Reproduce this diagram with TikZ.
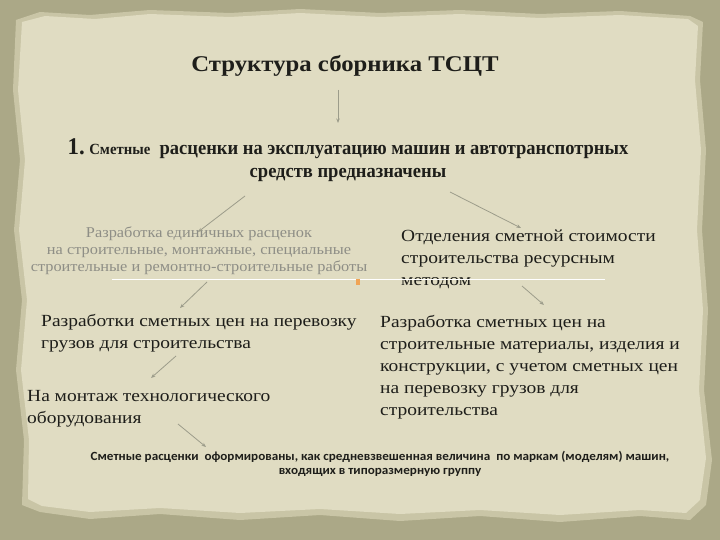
\documentclass[tikz,border=0pt]{standalone}
\usepackage{fontspec}
\setmainfont{Liberation Serif}
\newfontfamily\bodyf[FakeStretch=1.145]{Liberation Serif}
\newfontfamily\titlef[FakeStretch=1.1]{Liberation Serif}
\newfontfamily\condf[FakeStretch=0.95]{Liberation Serif}
\newfontfamily\greyf[FakeStretch=1.09]{Liberation Serif}
\newfontfamily\botf[FakeStretch=1.05]{Carlito}
\usetikzlibrary{arrows.meta}
\definecolor{outerc}{HTML}{ABA887}
\definecolor{edgec}{HTML}{C9C5A6}
\definecolor{paperc}{HTML}{E0DCC2}
\definecolor{arrowc}{HTML}{9C9C8A}
\definecolor{greyt}{HTML}{8E8E86}
\definecolor{orangec}{HTML}{F0A455}
\definecolor{textc}{HTML}{1E1E1A}
\tikzset{
  conn/.style={draw=arrowc, line width=0.8pt, -{Stealth[length=4.5pt,width=3.5pt]}},
  bodytext/.style={font=\bodyf\fontsize{17}{22}\selectfont, text=textc, align=left, inner sep=0pt},
  greytext/.style={font=\greyf\fontsize{15}{17}\selectfont, text=greyt, align=center, inner sep=0pt},
}
\begin{document}
\begin{tikzpicture}[x=1pt,y=-1pt]
\useasboundingbox (0,0) rectangle (720,540);
\fill[outerc] (0,0) rectangle (720,540);
% soft torn edge
\fill[edgec] (16,20) -- (40,12) -- (90,15) -- (150,10) -- (230,13) -- (300,9) -- (380,13) -- (460,10) -- (540,14) -- (620,11) -- (690,16) -- (703,22)
  -- (700,80) -- (706,150) -- (702,230) -- (708,310) -- (704,390) -- (712,460) -- (706,505) -- (690,520) -- (640,516) -- (560,522) -- (480,516) -- (400,521) -- (320,515) -- (240,520) -- (160,514) -- (90,519) -- (40,512) -- (22,505)
  -- (24,440) -- (16,370) -- (22,300) -- (14,230) -- (20,160) -- (13,90) -- cycle;
\fill[paperc] (22,22) -- (45,16) -- (95,19) -- (150,14) -- (230,17) -- (300,13) -- (380,17) -- (460,14) -- (540,18) -- (620,15) -- (688,19) -- (698,26)
  -- (695,80) -- (701,150) -- (697,230) -- (703,310) -- (699,390) -- (706,458) -- (700,500) -- (686,513) -- (640,510) -- (560,515) -- (480,510) -- (400,514) -- (320,509) -- (240,513) -- (160,508) -- (90,512) -- (42,506) -- (28,499)
  -- (29,440) -- (21,370) -- (27,300) -- (19,230) -- (25,160) -- (18,90) -- cycle;

% nodes
\node[font=\titlef\bfseries\fontsize{22.5}{26}\selectfont, text=textc, inner sep=0pt] (title) at (345,66) {Структура сборника ТСЦТ};

\node[font=\condf\bfseries\fontsize{19.5}{23}\selectfont, text=textc, align=center, inner sep=0pt] (first) at (348,160)
  {{\fontsize{24}{23}\selectfont 1.}~{\fontsize{15.5}{23}\selectfont Сметные}\ \ расценки на эксплуатацию машин и автотранспотрных\\средств предназначены};

\node[greytext] (grey) at (199,251) {Разработка единичных расценок\\на строительные, монтажные, специальные\\строительные и ремонтно-строительные работы};

\node[bodytext, anchor=north west] (otd) at (401,230) {Отделения сметной стоимости\\строительства ресурсным\\методом};

\node[bodytext, anchor=north west] (perev) at (41,314) {Разработки сметных цен на перевозку\\грузов для строительства};

\node[bodytext, anchor=north west] (mont) at (27,390) {На монтаж технологического\\оборудования};

\node[bodytext, anchor=north west] (mat) at (380,315) {Разработка сметных цен на\\строительные материалы, изделия и\\конструкции, с учетом сметных цен\\на перевозку грузов для\\строительства};

\node[font=\botf\bfseries\fontsize{12.5}{14}\selectfont, text=textc, align=center, inner sep=0pt] (bottom) at (380,464)
  {Сметные расценки\ \ оформированы, как средневзвешенная величина\ \ по маркам (моделям) машин,\\входящих в типоразмерную группу};

% separator line and marker
\coordinate (sepL) at (112,279);
\coordinate (sepR) at (605,279);
\draw[white, line width=0.8pt] (sepL) -- (sepR);
\node[fill=orangec, minimum width=4.5pt, minimum height=6pt, inner sep=0pt] (mark) at (358,282) {};

% arrow end points
\coordinate (a1s) at (338,90);  \coordinate (a1e) at (338,123);
\coordinate (a2s) at (245,196); \coordinate (a2e) at (198,232);
\coordinate (a3s) at (450,192); \coordinate (a3e) at (521,228);
\coordinate (a4s) at (207,282); \coordinate (a4e) at (180,308);
\coordinate (a5s) at (522,286); \coordinate (a5e) at (544,305);
\coordinate (a6s) at (176,356); \coordinate (a6e) at (151,378);
\coordinate (a7s) at (178,424); \coordinate (a7e) at (206,447);
\draw[conn] (a1s) -- (a1e);
\draw[conn] (a2s) -- (a2e);
\draw[conn] (a3s) -- (a3e);
\draw[conn] (a4s) -- (a4e);
\draw[conn] (a5s) -- (a5e);
\draw[conn] (a6s) -- (a6e);
\draw[conn] (a7s) -- (a7e);
\end{tikzpicture}
\end{document}
